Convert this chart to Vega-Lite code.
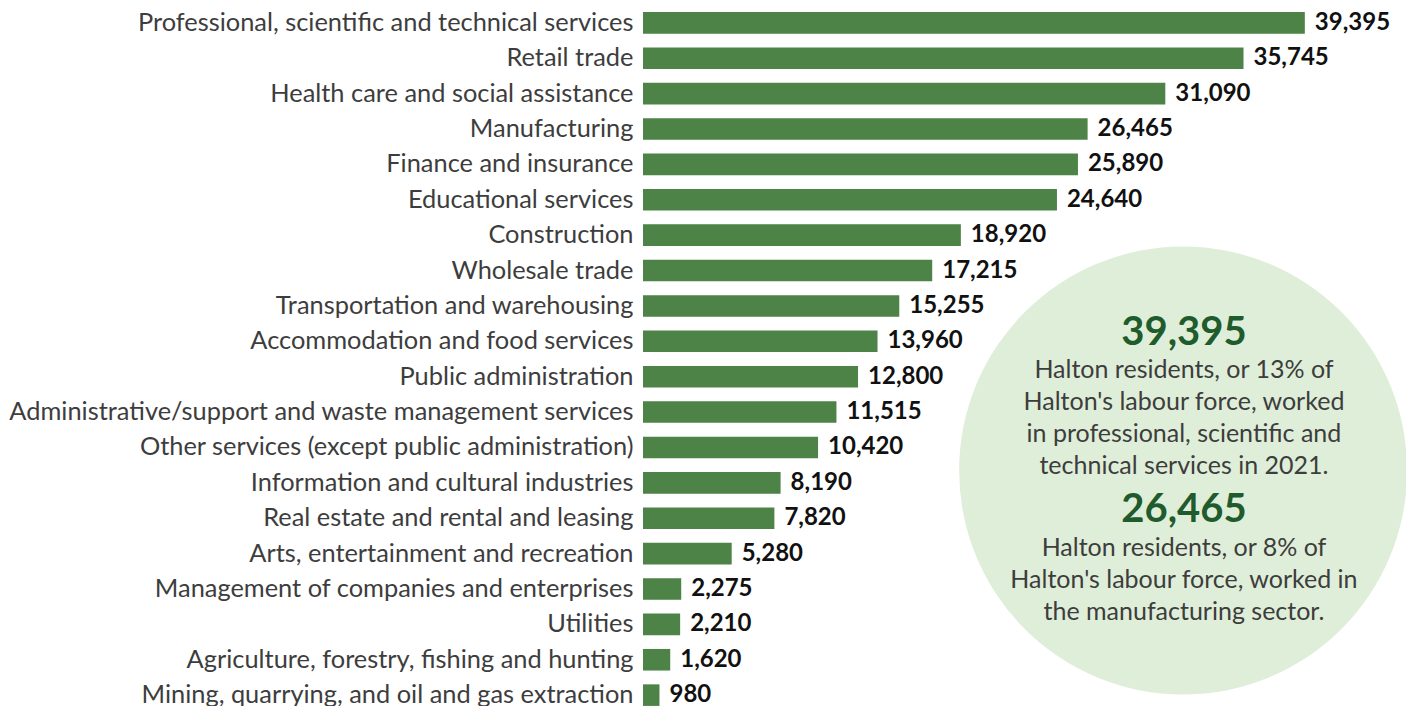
{
  "$schema": "https://vega.github.io/schema/vega-lite/v6.json",
  "autosize": {"type": "none"},
  "padding": {"left": 643, "top": 5, "right": 0, "bottom": 0},
  "width": 763,
  "height": 708,
  "background": "white",
  "config": {"view": {"stroke": null}, "font": "Lato"},
  "layer": [
    {
      "data": {"values": [
        {"industry": "Professional, scientific and technical services", "workers": 39395},
        {"industry": "Retail trade", "workers": 35745},
        {"industry": "Health care and social assistance", "workers": 31090},
        {"industry": "Manufacturing", "workers": 26465},
        {"industry": "Finance and insurance", "workers": 25890},
        {"industry": "Educational services", "workers": 24640},
        {"industry": "Construction", "workers": 18920},
        {"industry": "Wholesale trade", "workers": 17215},
        {"industry": "Transportation and warehousing", "workers": 15255},
        {"industry": "Accommodation and food services", "workers": 13960},
        {"industry": "Public administration", "workers": 12800},
        {"industry": "Administrative/support and waste management services", "workers": 11515},
        {"industry": "Other services (except public administration)", "workers": 10420},
        {"industry": "Information and cultural industries", "workers": 8190},
        {"industry": "Real estate and rental and leasing", "workers": 7820},
        {"industry": "Arts, entertainment and recreation", "workers": 5280},
        {"industry": "Management of companies and enterprises", "workers": 2275},
        {"industry": "Utilities", "workers": 2210},
        {"industry": "Agriculture, forestry, fishing and hunting", "workers": 1620},
        {"industry": "Mining, quarrying, and oil and gas extraction", "workers": 980}
      ]},
      "encoding": {
        "y": {
          "field": "industry", "type": "nominal", "sort": null,
          "scale": {"paddingInner": 0.39, "paddingOuter": 0.2},
          "axis": {"title": null, "domain": false, "ticks": false, "labelPadding": 10, "labelFontSize": 25.4, "labelFont": "Lato", "labelColor": "#3d3d3d", "labelLimit": 0}
        },
        "x": {"field": "workers", "type": "quantitative", "scale": {"domain": [0, 45417], "nice": false}, "axis": null}
      },
      "layer": [
        {"mark": {"type": "bar", "color": "#4d8346"}},
        {"mark": {"type": "text", "align": "left", "dx": 10, "baseline": "middle", "fontSize": 24, "fontWeight": "bold", "color": "#111111"},
         "encoding": {"text": {"field": "workers", "type": "quantitative", "format": ","}}}
      ]
    },
    {
      "encoding": {
        "y": {"field": "y", "type": "quantitative", "scale": {"domain": [0, 20], "reverse": true, "nice": false, "zero": true}, "axis": null},
        "x": {"field": "x", "type": "quantitative"}
      },
      "layer": [
        {
          "data": {"values": [{"x": 32150, "y": 13.15}]},
          "mark": {"type": "point", "shape": "circle", "filled": true, "size": 200704, "color": "#dfeed8", "opacity": 1}
        },
        {
          "data": {"values": [
            {"x": 32200, "y": 9.27, "label": "39,395"},
            {"x": 32200, "y": 14.27, "label": "26,465"}
          ]},
          "mark": {"type": "text", "align": "center", "baseline": "middle", "fontSize": 40, "fontWeight": "bold", "color": "#1f5b2c"},
          "encoding": {"text": {"field": "label", "type": "nominal"}}
        },
        {
          "data": {"values": [
            {"x": 32200, "y": 10.31, "label": "Halton residents, or 13% of\nHalton's labour force, worked\nin professional, scientific and\ntechnical services in 2021."},
            {"x": 32200, "y": 15.34, "label": "Halton residents, or 8% of\nHalton's labour force, worked in\nthe manufacturing sector."}
          ]},
          "mark": {"type": "text", "align": "center", "baseline": "middle", "fontSize": 25, "lineHeight": 32, "lineBreak": "\n", "color": "#3d3d3d"},
          "encoding": {"text": {"field": "label", "type": "nominal"}}
        }
      ]
    }
  ],
  "resolve": {"scale": {"y": "independent"}}
}
